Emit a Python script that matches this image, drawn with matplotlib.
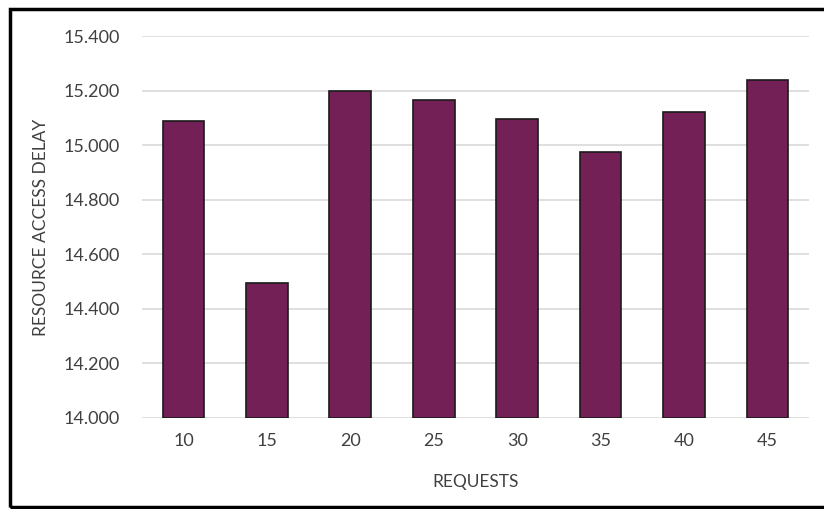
import matplotlib
matplotlib.use('Agg')
import matplotlib.pyplot as plt
from matplotlib.patches import Rectangle

requests = ['10', '15', '20', '25', '30', '35', '40', '45']
delay = [15.088, 14.495, 15.198, 15.165, 15.096, 14.975, 15.121, 15.239]
yticks = [14.0, 14.2, 14.4, 14.6, 14.8, 15.0, 15.2, 15.4]

plt.rcParams['font.family'] = ['Lato', 'DejaVu Sans']

fig = plt.figure(figsize=(8.24, 5.09), dpi=100)
ax = fig.add_axes([0.172, 0.179, 0.81, 0.75])

x = range(len(requests))
ax.bar(x, [d - 14.0 for d in delay], bottom=14.0, width=0.5,
       color='#722056', edgecolor='#1a1a1a', linewidth=1.2, zorder=3)

ax.set_ylim(14.0, 15.4)
ax.set_xlim(-0.5, len(requests) - 0.5)
ax.set_yticks(yticks)
ax.set_yticklabels(['%.3f' % v for v in yticks])
ax.set_xticks(list(x))
ax.set_xticklabels(requests)
ax.tick_params(length=0, labelsize=13, labelcolor='#404040')
ax.tick_params(axis='x', pad=11)
ax.tick_params(axis='y', pad=16)
ax.grid(axis='y', color='#dcdcdc', linewidth=1.3, zorder=0)
for s in ax.spines.values():
    s.set_visible(False)

ax.set_xlabel('REQUESTS', fontsize=12.5, color='#404040', labelpad=18)
ax.set_ylabel('RESOURCE ACCESS DELAY', fontsize=12.5, color='#404040', labelpad=10)

# outer frame of the screenshot
fig.patches.append(Rectangle((10 / 824, 2 / 509), 1.0, 498 / 509,
                             transform=fig.transFigure, fill=False,
                             edgecolor='black', linewidth=2.5))

fig.savefig('out.png', dpi=100)
